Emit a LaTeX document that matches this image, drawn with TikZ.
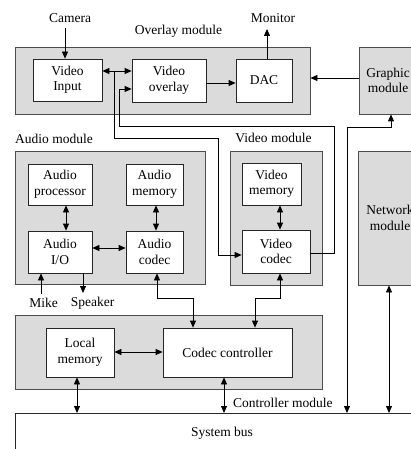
\documentclass[tikz,border=0pt]{standalone}
\usepackage{fontspec}
\setmainfont{Liberation Serif}
\usetikzlibrary{arrows.meta}
\begin{document}
\begin{tikzpicture}[x=1pt,y=-1pt,
  mod/.style={draw=black!70, fill=black!14, line width=0.8pt, inner sep=0pt, align=center, font=\fontsize{13.5}{15.5}\selectfont},
  blk/.style={draw=black!85, fill=white, line width=0.8pt, inner sep=0pt, align=center, font=\fontsize{13.5}{15.5}\selectfont},
  lbl/.style={inner sep=0pt, font=\fontsize{13.5}{15.5}\selectfont},
  con/.style={line width=0.8pt, -{Triangle[length=7pt,width=6pt]}},
  bi/.style={line width=0.8pt, {Triangle[length=7pt,width=6pt]}-{Triangle[length=7pt,width=6pt]}},
  ln/.style={line width=0.8pt}]
\useasboundingbox (0,0) rectangle (411,449);
\begin{scope}
\clip (0,0) rectangle (411,449);
% modules
\node[mod, minimum width=295pt, minimum height=67pt] (ovm) at (162.5,80.5) {};
\node[mod, minimum width=58pt, minimum height=67pt] (gfx) at (388,80.5) {Graphic\\module};
\node[mod, minimum width=190pt, minimum height=133pt] (aum) at (110,217.5) {};
\node[mod, minimum width=92pt, minimum height=134pt] (vim) at (276,218) {};
\node[mod, minimum width=64pt, minimum height=134pt] (net) at (390,218) {Network\\module};
\node[mod, minimum width=307pt, minimum height=74pt] (ctm) at (168.5,352) {};
\node[blk, minimum width=430pt, minimum height=70pt, anchor=north west] (bus) at (15,413) {};
% blocks
\node[blk, minimum width=69pt, minimum height=42pt] (vin) at (67.5,80) {Video\\Input};
\node[blk, minimum width=74pt, minimum height=43pt] (vov) at (169,80.5) {Video\\overlay};
\node[blk, minimum width=56pt, minimum height=43pt] (dac) at (264,80.5) {DAC};
\node[blk, minimum width=64pt, minimum height=41pt] (apr) at (60,184.5) {Audio\\processor};
\node[blk, minimum width=57pt, minimum height=41pt] (ame) at (154.5,184.5) {Audio\\memory};
\node[blk, minimum width=64pt, minimum height=42pt] (aio) at (60,252) {Audio\\I/O};
\node[blk, minimum width=57pt, minimum height=42pt] (aco) at (154.5,252) {Audio\\codec};
\node[blk, minimum width=59pt, minimum height=42pt] (vme) at (271.5,184) {Video\\memory};
\node[blk, minimum width=68pt, minimum height=43pt] (vco) at (276,251.5) {Video\\codec};
\node[blk, minimum width=68pt, minimum height=49pt] (lme) at (80,352.5) {Local\\memory};
\node[blk, minimum width=129pt, minimum height=49pt] (cco) at (227.5,352.5) {Codec controller};
% labels
\node[lbl] (cam) at (70,18) {Camera};
\node[lbl] (ovl) at (178.5,31) {Overlay module};
\node[lbl] (mon) at (273,18) {Monitor};
\node[lbl, anchor=west] (aul) at (15,139) {Audio module};
\node[lbl] (vil) at (273.5,138) {Video module};
\node[lbl] (mik) at (43.5,303) {Mike};
\node[lbl] (spk) at (92.5,303) {Speaker};
\node[lbl, anchor=west] (ctl) at (233,403) {Controller module};
\node[lbl] (bul) at (222,433) {System bus};
% free ends
\coordinate (camend) at (65,28);
\coordinate (monend) at (267,29);
\coordinate (mikend) at (41,294);
\coordinate (spkend) at (83,293);
\coordinate (j1) at (114,71);
% connectors
\draw[con] (camend) -- (vin.north -| camend);
\draw[con] (dac.north -| monend) -- (monend);
\draw[bi] (vin.east |- 0,71) -- (vov.west |- 0,71);
\draw[con] (vov.east |- 0,83) -- (dac.west |- 0,83);
\draw[con] (gfx.west |- 0,78) -- (ovm.east |- 0,78);
\draw[con] (j1) -- (114,138) -- (218,138) -- (218,255) -- (vco.west |- 0,255);
\draw[con] (vco.east |- 0,253) -- (334,253) -- (334,126) -- (119,126) -- (119,89) -- (vov.west |- 0,89);
\draw[bi] (apr.south -| 66,0) -- (aio.north -| 66,0);
\draw[bi] (ame.south -| 156,0) -- (aco.north -| 156,0);
\draw[bi] (aio.east |- 0,248) -- (aco.west |- 0,248);
\draw[con] (mikend) -- (aio.south -| mikend);
\draw[con] (aio.south -| spkend) -- (spkend);
\draw[bi] (vme.south -| 280,0) -- (vco.north -| 280,0);
\draw[bi] (aco.south -| 157,0) -- (157,298) -- (193,298) -- (cco.north -| 193,0);
\draw[bi] (vco.south -| 280,0) -- (280,298) -- (255,298) -- (cco.north -| 255,0);
\draw[bi] (lme.east |- 0,352) -- (cco.west |- 0,352);
\draw[bi] (lme.south -| 77,0) -- (bus.north -| 77,0);
\draw[bi] (cco.south -| 224,0) -- (bus.north -| 224,0);
\draw[bi] (bus.north -| 347,0) -- (347,127) -- (391,127) -- (gfx.south -| 391,0);
\draw[bi] (net.south -| 389,0) -- (bus.north -| 389,0);
\end{scope}
\end{tikzpicture}
\end{document}
